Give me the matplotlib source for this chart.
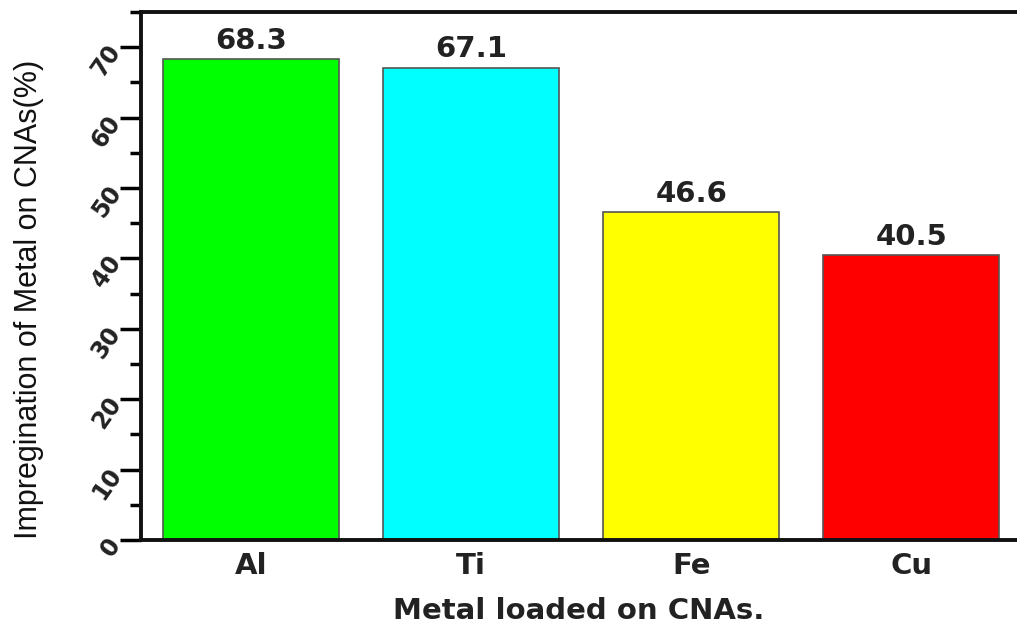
import matplotlib
matplotlib.use("Agg")
import matplotlib.pyplot as plt
from matplotlib.ticker import MultipleLocator

metals = ["Al", "Ti", "Fe", "Cu"]
impregnation = [68.3, 67.1, 46.6, 40.5]
colors = ["#00FF00", "#00FFFF", "#FFFF00", "#FF0000"]

plt.rcParams["font.family"] = ["DejaVu Sans"]
INK = "#222222"

fig = plt.figure(figsize=(10.17, 6.25), dpi=100)
ax = fig.add_axes([141 / 1017, 85 / 625, 876 / 1017, 528 / 625])

x = range(len(metals))
bars = ax.bar(x, impregnation, width=0.8, color=colors,
              edgecolor="#555555", linewidth=1.2)
for b, v in zip(bars, impregnation):
    ax.annotate(f"{v:.1f}", (b.get_x() + b.get_width() / 2, v),
                xytext=(0, 3), textcoords="offset points",
                ha="center", va="bottom", fontsize=21, fontweight="bold",
                color=INK)

ax.set_xlim(-0.5, 3.48)
ax.set_ylim(0, 75)
ax.set_xticks(list(x))
ax.set_xticklabels(metals, fontsize=21, fontweight="bold", color=INK)
ax.yaxis.set_major_locator(MultipleLocator(10))
ax.yaxis.set_minor_locator(MultipleLocator(5))
ax.set_yticks(range(0, 71, 10))
for lab in ax.get_yticklabels():
    lab.set_rotation(55)
    lab.set_fontsize(17)
    lab.set_fontweight("bold")
    lab.set_color(INK)
    lab.set_rotation_mode("anchor")
    lab.set_ha("right")
    lab.set_va("center")

ax.tick_params(axis="x", length=0, pad=9)
ax.tick_params(axis="y", which="major", length=15, width=2.5, pad=3)
ax.tick_params(axis="y", which="minor", length=8, width=2.5)

for side in ("left", "bottom", "top"):
    ax.spines[side].set_linewidth(2.8)
    ax.spines[side].set_color("#111111")
ax.spines["right"].set_visible(False)

ax.set_xlabel("Metal loaded on CNAs.", fontsize=21, fontweight="bold",
              color=INK, labelpad=12)
ax.set_ylabel("Impregination of Metal on CNAs(%)", fontsize=22,
              color="#111111", family="Liberation Sans")
ax.yaxis.set_label_coords(-0.111, 0.455)

fig.savefig("out.png", dpi=100)
